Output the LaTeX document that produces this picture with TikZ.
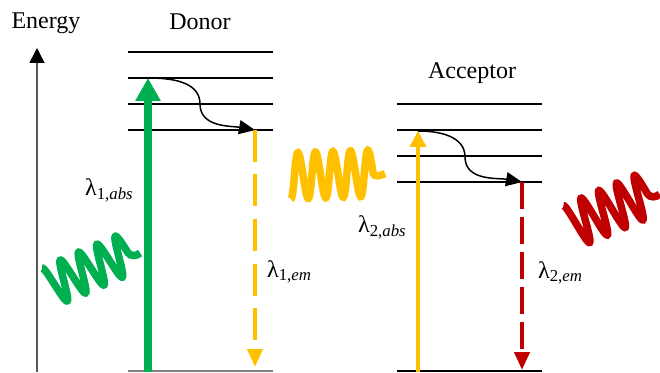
\documentclass[tikz,border=0pt]{standalone}
\usepackage{fontspec}
\setmainfont{Liberation Serif}
\usetikzlibrary{arrows.meta}

\definecolor{absgreen}{HTML}{00B050}
\definecolor{emyellow}{HTML}{FFC000}
\definecolor{emred}{HTML}{C00000}

\begin{document}
\begin{tikzpicture}[x=1pt, y=1pt,
    font=\fontsize{24}{28}\selectfont,
    level/.style={line width=2pt},
    relax/.style={line width=1.5pt, -{Triangle[width=14pt,length=16pt]}},
    emission/.style={line width=4pt, -{Triangle[width=15pt,length=18pt]}},
    photon/.style={line width=7.5pt},
    lbl/.style={anchor=base west, inner sep=0pt}]
    \useasboundingbox (0,0) rectangle (660,372);

    % Energy axis
    \coordinate (e0) at (37,0);
    \coordinate (e1) at (37,324);
    \draw[line width=1.5pt, black!65, -{Triangle[width=15pt,length=15pt,color=black]}] (e0) -- (e1);
    \node[anchor=base, inner sep=0pt] (energy) at (46,343) {Energy};

    % Donor levels
    \node[anchor=base, inner sep=0pt] (donor) at (200,342) {Donor};
    \foreach \y in {320,294,268,242}
        \draw[level] (128,\y) -- (273,\y);
    \draw[level, black!50] (128,1) -- (273,1);

    % Acceptor levels
    \node[anchor=base, inner sep=0pt] (acceptor) at (472,293) {Acceptor};
    \foreach \y in {268,242,216,190}
        \draw[level] (397,\y) -- (542,\y);
    \draw[level] (397,1) -- (542,1);

    % Donor transitions
    \coordinate (dg) at (148,0);
    \coordinate (dup) at (148,294);
    \coordinate (dmid) at (200,268);
    \coordinate (dlow) at (255,242);
    \coordinate (dbot) at (255,5);
    \draw[absgreen, line width=8pt, -{Triangle[width=24pt,length=23pt]}] (dg) -- (dup);
    \draw[relax] (dup) to[out=0,in=90] (dmid) to[out=-90,in=170] (dlow);
    \draw[emission, emyellow, dash pattern=on 32pt off 12.5pt] (dlow) -- (dbot);
    \node[lbl] (labs1) at (85,176) {λ\textsubscript{1,\textit{abs}}};
    \node[lbl] (lem1) at (267,95) {λ\textsubscript{1,\textit{em}}};

    % Acceptor transitions
    \coordinate (ag) at (418,0);
    \coordinate (aup) at (418,241);
    \coordinate (amid) at (465,215);
    \coordinate (alow) at (522,190);
    \coordinate (abot) at (522,2);
    \draw[emyellow, line width=3.7pt, -{Triangle[width=16pt,length=16pt]}] (ag) -- (aup);
    \draw[relax] (aup) to[out=0,in=90] (amid) to[out=-90,in=170] (alow);
    \draw[emission, emred, dash pattern=on 27pt off 8pt] (alow) -- (abot);
    \node[lbl] (labs2) at (358,139) {λ\textsubscript{2,\textit{abs}}};
    \node[lbl] (lem2) at (538,94) {λ\textsubscript{2,\textit{em}}};

    % Photons
    \begin{scope}[shift={(50,85.5)}, rotate=23.4]
        \draw[photon, absgreen] plot[domain=90:1620, samples=160, smooth] ({(\x-90)/360*20}, {20*sin(\x)})
            to[out=-80,in=200] ++(11,-5);
    \end{scope}
    \begin{scope}[shift={(290,196)}, rotate=2]
        \draw[photon, emyellow] plot[domain=-90:1620, samples=170, smooth] ({(\x+90)/360*17.5}, {23*sin(\x)})
            to[out=-80,in=200] ++(12,-1);
    \end{scope}
    \begin{scope}[shift={(572,146)}, rotate=23]
        \draw[photon, emred] plot[domain=90:1620, samples=160, smooth] ({(\x-90)/360*19.3}, {22*sin(\x)})
            to[out=-80,in=200] ++(11,-5);
    \end{scope}
\end{tikzpicture}
\end{document}
